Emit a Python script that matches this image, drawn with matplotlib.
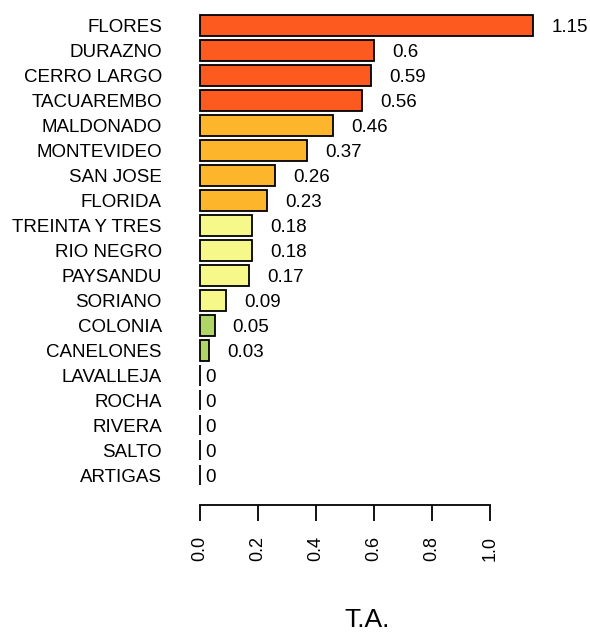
import matplotlib
matplotlib.use("Agg")
import matplotlib.pyplot as plt
import numpy as np

plt.rcParams['font.family'] = ['Liberation Sans', 'DejaVu Sans']

departments = ["FLORES", "DURAZNO", "CERRO LARGO", "TACUAREMBO", "MALDONADO",
               "MONTEVIDEO", "SAN JOSE", "FLORIDA", "TREINTA Y TRES", "RIO NEGRO",
               "PAYSANDU", "SORIANO", "COLONIA", "CANELONES", "LAVALLEJA",
               "ROCHA", "RIVERA", "SALTO", "ARTIGAS"]
values = [1.15, 0.6, 0.59, 0.56, 0.46, 0.37, 0.26, 0.23, 0.18, 0.18,
          0.17, 0.09, 0.05, 0.03, 0, 0, 0, 0, 0]
value_labels = ["1.15", "0.6", "0.59", "0.56", "0.46", "0.37", "0.26", "0.23",
                "0.18", "0.18", "0.17", "0.09", "0.05", "0.03", "0", "0", "0", "0", "0"]
group_colors = ["#FC5A1F"] * 4 + ["#FDB62C"] * 4 + ["#F6F98A"] * 4 + ["#AED566"] * 7
xticks = [0.0, 0.2, 0.4, 0.6, 0.8, 1.0]
xlabel = "T.A."

W, H = 590, 634
fig = plt.figure(figsize=(W / 100, H / 100), dpi=100)

# axes placement in pixels
x_left_px, x_right_px = 186.7, 546.8
y_top_px, y_bot_px = 5, 495
ax = fig.add_axes([x_left_px / W, 1 - y_bot_px / H,
                   (x_right_px - x_left_px) / W, (y_bot_px - y_top_px) / H])

n = len(departments)
ypos = np.arange(n)[::-1]  # FLORES at top
ax.barh(ypos, values, height=0.833, color=group_colors, edgecolor="black",
        linewidth=1.3)

for y, v, lab in zip(ypos, values, value_labels):
    off = 13 if v > 0 else 3.6
    ax.annotate(lab, xy=(v, y), xytext=(off, 0), textcoords="offset points",
                ha="left", va="center_baseline", fontsize=13.5)

ax.set_xlim(-0.046, 1.196)
step = 24.97
ax.set_ylim((475 - y_bot_px) / step, (475 - y_top_px) / step)

ax.set_yticks(ypos)
ax.set_yticklabels(departments, fontsize=13.5)
ax.tick_params(axis="y", length=0, pad=17.8)

for s in ["top", "right", "left"]:
    ax.spines[s].set_visible(False)
ax.spines["bottom"].set_position(("outward", 7.2))
ax.spines["bottom"].set_bounds(0, 1.0)
ax.spines["bottom"].set_linewidth(1.3)
ax.set_xticks(xticks)
ax.set_xticklabels([f"{t:.1f}" for t in xticks], rotation=90, fontsize=13)
ax.tick_params(axis="x", length=11.5, width=1.3, direction="out", pad=10.5)

fig.text(367 / W, 1 - 627 / H, xlabel, ha="center", va="baseline", fontsize=19)

fig.savefig("out.png", dpi=100)
